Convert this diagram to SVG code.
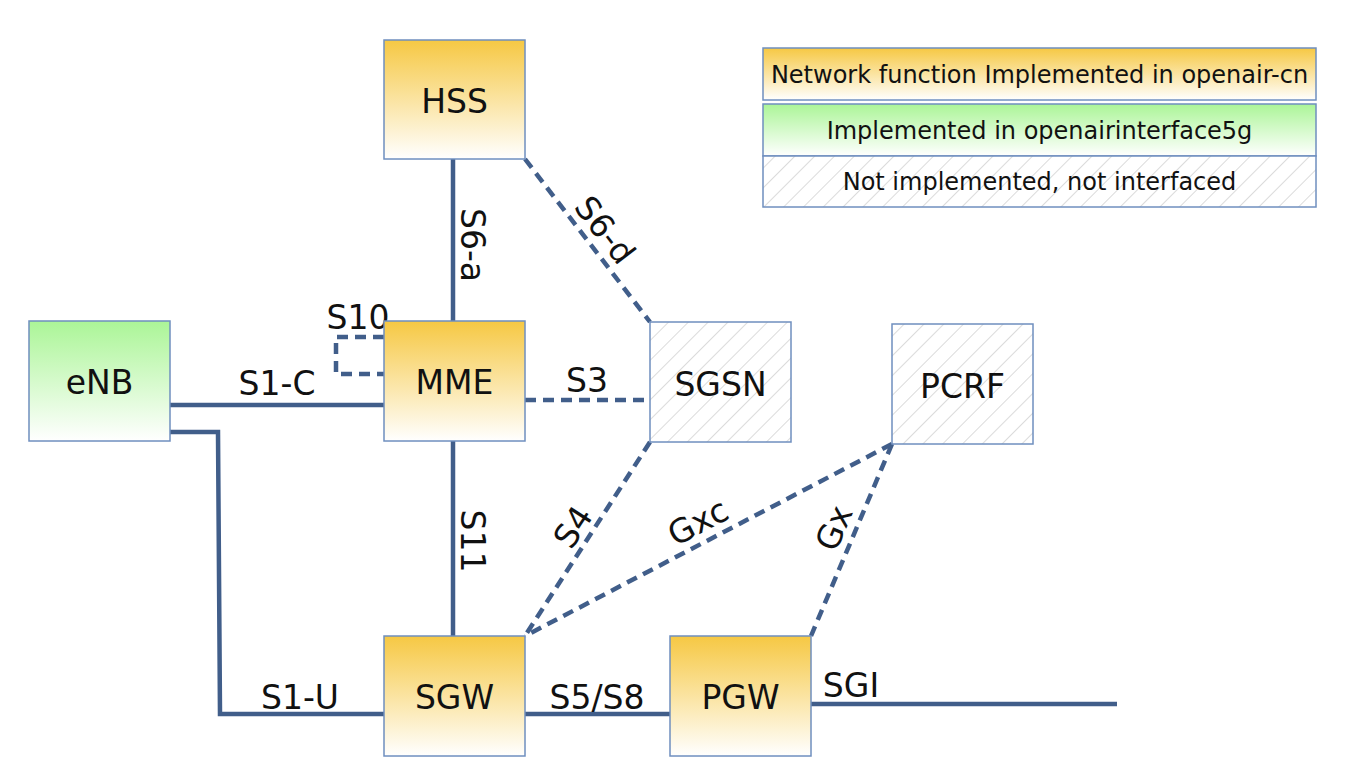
<svg xmlns="http://www.w3.org/2000/svg" width="1346" height="778" viewBox="0 0 1346 778">
<defs>
<linearGradient id="gOr" x1="0" y1="0" x2="0" y2="1"><stop offset="0" stop-color="#f6c843"/><stop offset="1" stop-color="#ffffff"/></linearGradient>
<linearGradient id="gGr" x1="0" y1="0" x2="0" y2="1"><stop offset="0" stop-color="#abf597"/><stop offset="1" stop-color="#ffffff"/></linearGradient>
<pattern id="hatch" patternUnits="userSpaceOnUse" width="14" height="14" patternTransform="rotate(45)">
<rect width="14" height="14" fill="#ffffff"/>
<line x1="0" y1="0" x2="0" y2="14" stroke="#c4c4c4" stroke-width="1.2"/>
</pattern>
<style>
.box{stroke:#6f8fbf;stroke-width:1.5}
.or{fill:url(#gOr)}
.gr{fill:url(#gGr)}
.ht{fill:url(#hatch)}
.nt{font-family:"DejaVu Sans",sans-serif;font-size:33px;fill:#111;text-anchor:middle;dominant-baseline:central}
.lt{font-family:"DejaVu Sans",sans-serif;font-size:33px;fill:#111;text-anchor:middle;dominant-baseline:central}
.lg{font-family:"DejaVu Sans",sans-serif;font-size:24px;fill:#111;text-anchor:middle;dominant-baseline:central}
.sol{stroke:#415e8a;stroke-width:4.5;fill:none}
.dsh{stroke:#415e8a;stroke-width:4.5;fill:none;stroke-dasharray:11 7}
</style>
</defs>
<g id="connectors">
<line class="sol" x1="453" y1="159" x2="453" y2="321"/>
<line class="sol" x1="453" y1="441" x2="453" y2="636"/>
<line class="sol" x1="170" y1="405" x2="384" y2="405"/>
<polyline class="sol" points="170,432 218,432 220,714 384,714"/>
<polyline class="dsh" points="384,337 336,337 336,374 384,374"/>
<line class="dsh" x1="525" y1="400" x2="650" y2="400"/>
<line class="dsh" x1="525" y1="159" x2="650" y2="322"/>
<line class="dsh" x1="650" y1="442" x2="525" y2="636"/>
<line class="dsh" x1="892" y1="444" x2="525" y2="636"/>
<line class="dsh" x1="892" y1="444" x2="811" y2="636"/>
<line class="sol" x1="525" y1="714" x2="670" y2="714"/>
<line class="sol" x1="811" y1="704" x2="1117" y2="704"/>
<text class="lt" transform="translate(472,245) rotate(90)">S6-a</text>
<text class="lt" transform="translate(472,541) rotate(90)">S11</text>
<text class="lt" x="277" y="383">S1-C</text>
<text class="lt" x="300" y="697">S1-U</text>
<text class="lt" x="358" y="317">S10</text>
<text class="lt" x="587" y="380">S3</text>
<text class="lt" x="597" y="697">S5/S8</text>
<text class="lt" x="851" y="685">SGI</text>
<text class="lt" transform="translate(605,230) rotate(52.5)">S6-d</text>
<text class="lt" transform="translate(573,527) rotate(-57)">S4</text>
<text class="lt" transform="translate(698,522) rotate(-27.6)">Gxc</text>
<text class="lt" transform="translate(834,528) rotate(-67)">Gx</text>
</g>
<g id="HSS"><rect class="box or" x="384" y="40" width="141" height="119"/><text class="nt" x="454.5" y="101">HSS</text></g>
<g id="MME"><rect class="box or" x="384" y="321" width="141" height="120"/><text class="nt" x="454.5" y="382">MME</text></g>
<g id="SGW"><rect class="box or" x="384" y="636" width="141" height="120"/><text class="nt" x="454.5" y="697">SGW</text></g>
<g id="PGW"><rect class="box or" x="670" y="636" width="141" height="120"/><text class="nt" x="740.5" y="697">PGW</text></g>
<g id="eNB"><rect class="box gr" x="29" y="321" width="141" height="120"/><text class="nt" x="99.5" y="382">eNB</text></g>
<g id="SGSN"><rect class="box ht" x="650" y="322" width="141" height="120"/><text class="nt" x="720.5" y="384">SGSN</text></g>
<g id="PCRF"><rect class="box ht" x="892" y="324" width="141" height="120"/><text class="nt" x="962.5" y="386">PCRF</text></g>
<g id="legend">
<rect class="box or" x="763" y="48" width="553" height="52"/>
<text class="lg" x="1039.5" y="75">Network function Implemented in openair-cn</text>
<rect class="box gr" x="763" y="104" width="553" height="52"/>
<text class="lg" x="1039.5" y="131">Implemented in openairinterface5g</text>
<rect class="box ht" x="763" y="156" width="553" height="51"/>
<text class="lg" x="1039.5" y="182">Not implemented, not interfaced</text>
</g>
</svg>
